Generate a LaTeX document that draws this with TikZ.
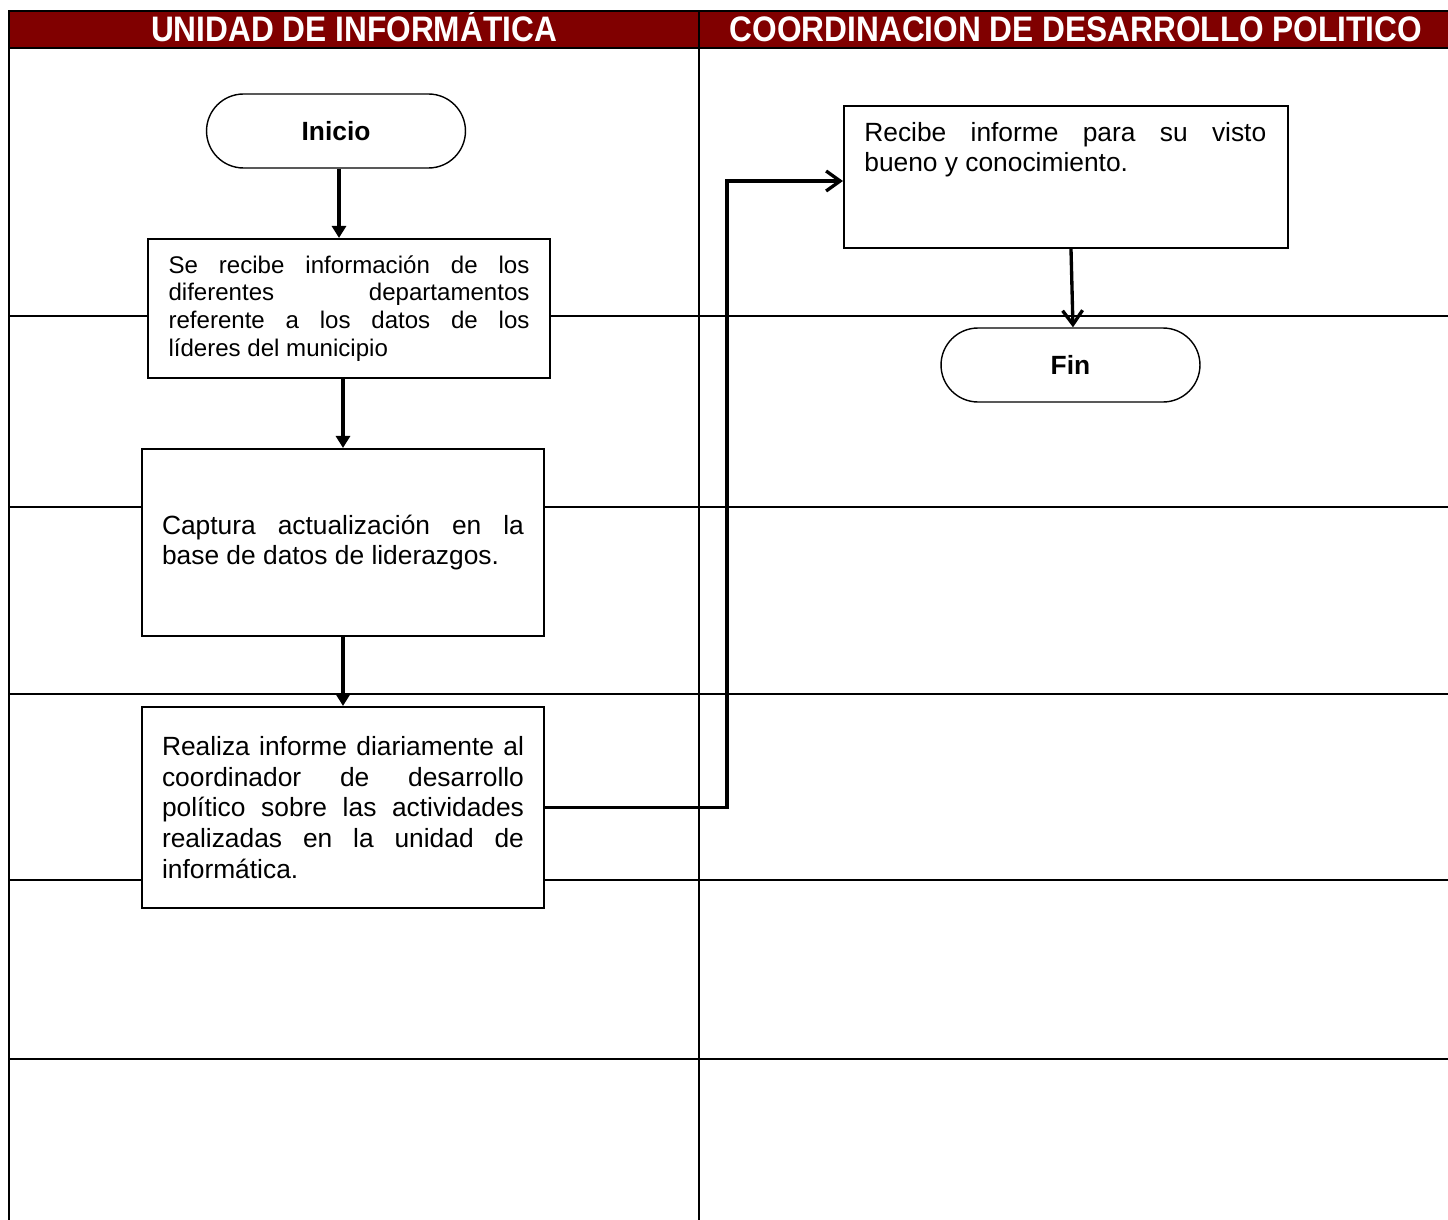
\documentclass[tikz,border=0pt]{standalone}
\usepackage{fontspec}
\setmainfont{Liberation Sans}
\usetikzlibrary{calc,positioning,shapes.misc,arrows.meta}
\definecolor{headred}{RGB}{128,0,0}
\hbadness=10000

\begin{document}
\begin{tikzpicture}[x=0.02cm,y=-0.02cm,inner sep=0pt,
  lane/.style={line width=1.65pt},
  caja/.style={draw,fill=white,line width=1.2pt,align=justify},
  term/.style={draw,fill=white,rounded rectangle,line width=0.8pt,minimum width=5.18cm,minimum height=1.48cm,font=\fontsize{15}{18}\selectfont\bfseries},
  flecha/.style={line width=1.9pt,-{Triangle[length=0.24cm,width=0.28cm]}},
  flechab/.style={line width=1.9pt,-{Straight Barb[length=0.28cm,width=0.4cm]}},
  titulo/.style={text=white,font=\fontsize{18}{20}\selectfont\bfseries,anchor=base}]
\useasboundingbox (0,0) rectangle (1448,1220);
% header
\fill[headred] (9,11) rectangle (1448,48);
\node (t1) at (354,41.5) [titulo] {\scalebox{1}[1.12]{UNIDAD DE INFORMÁTICA}};
\node (t2) at (1076,41.5) [titulo] {\scalebox{1}[1.12]{COORDINACION DE DESARROLLO POLITICO}};
% lanes
\draw[lane] (1448,11) -- (9,11) -- (9,1220);
\draw[lane] (9,48) -- (1448,48);
\draw[lane] (699,11) -- (699,1220);
\foreach \y in {316,507,694,880,1059}
  \draw[lane] (9,\y) -- (1448,\y);
% nodes
\node (inicio) at (336,131) [term] {Inicio};
\node (b1) at (349,308.5) [caja,minimum width=8.04cm,minimum height=2.78cm,text width=7.22cm,
  font=\fontsize{13.7}{15.8}\selectfont]
  {Se recibe información de los\linebreak diferentes departamentos\linebreak referente a los datos de los\linebreak líderes del municipio};
\node (b2) at (343,542.5) [caja,minimum width=8.04cm,minimum height=3.74cm,text width=7.24cm,
  font=\fontsize{15}{17.4}\selectfont]
  {Captura actualización en la\linebreak base de datos de liderazgos.\par\vspace{0.5cm}};
\node (b3) at (343,807.5) [caja,minimum width=8.04cm,minimum height=4.02cm,text width=7.24cm,
  font=\fontsize{15}{17.4}\selectfont]
  {Realiza informe diariamente al\linebreak coordinador de desarrollo\linebreak político sobre las actividades\linebreak realizadas en la unidad de\linebreak informática.};
\node (b4) at (1066,177) [draw,fill=white,line width=1.2pt,minimum width=8.88cm,minimum height=2.84cm] {};
\node (b4txt) at ([shift={(21,17)}]b4.north west) [anchor=north west,align=justify,text width=8.04cm,
  font=\fontsize{15}{17.4}\selectfont]
  {Recibe informe para su visto\linebreak bueno y conocimiento.};
\node (fin) at (1070.5,365) [term] {Fin};
% connectors
\coordinate (turn) at (727,181);
\draw[flecha] (inicio.south -| 339,0) -- (b1.north -| 339,0);
\draw[flecha] (b2.north |- b1.south) -- (b2.north);
\draw[flecha] (b2.south) -- (b3.north);
\draw[flechab] (b3.east) -| (turn) -- (turn -| b4.west);
\draw[flechab] ([xshift=0.1cm]b4.south) -- ([xshift=0.05cm]fin.north);
\end{tikzpicture}
\end{document}
